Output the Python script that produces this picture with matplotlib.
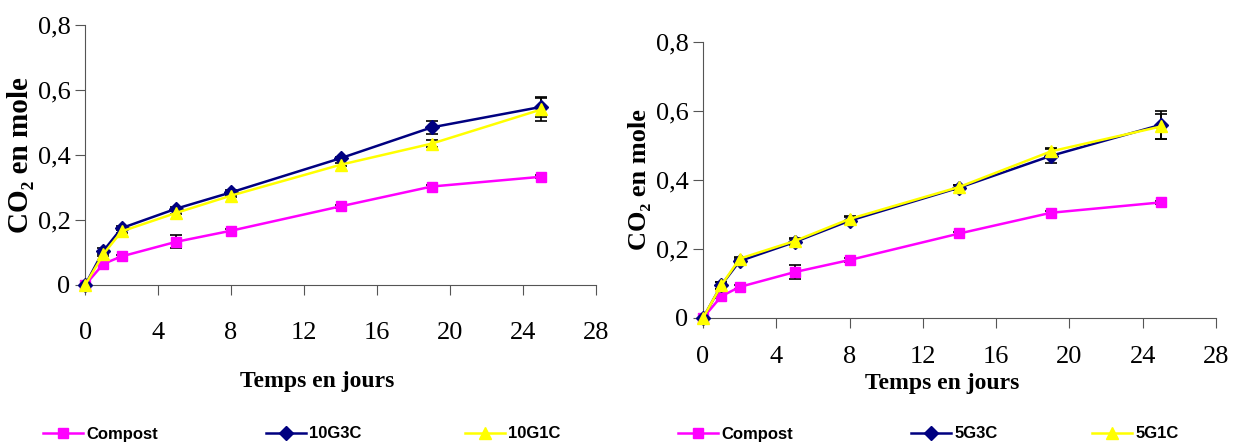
import matplotlib
matplotlib.use("Agg")
import matplotlib.pyplot as plt

# data
days = [0, 1, 2, 5, 8, 14, 19, 25]

left_compost = [0, 0.065, 0.088, 0.133, 0.167, 0.242, 0.303, 0.333]
left_compost_err = [0, 0.005, 0.005, 0.02, 0.005, 0.005, 0.005, 0.005]
left_g3c = [0, 0.105, 0.175, 0.235, 0.285, 0.39, 0.485, 0.548]
left_g3c_err = [0, 0.01, 0.005, 0.005, 0.008, 0.005, 0.02, 0.03]
left_g1c = [0, 0.095, 0.165, 0.222, 0.275, 0.37, 0.435, 0.54]
left_g1c_err = [0, 0.005, 0.005, 0.005, 0.005, 0.005, 0.01, 0.035]
left_names = ["Compost", "10G3C", "10G1C"]

right_compost = [0, 0.063, 0.09, 0.133, 0.168, 0.245, 0.305, 0.335]
right_compost_err = [0, 0.005, 0.005, 0.02, 0.005, 0.005, 0.005, 0.005]
right_g3c = [0, 0.095, 0.165, 0.22, 0.282, 0.378, 0.47, 0.56]
right_g3c_err = [0, 0.01, 0.008, 0.008, 0.01, 0.008, 0.02, 0.04]
right_g1c = [0, 0.095, 0.172, 0.223, 0.287, 0.38, 0.483, 0.555]
right_g1c_err = [0, 0.01, 0.005, 0.01, 0.01, 0.005, 0.01, 0.035]
right_names = ["Compost", "5G3C", "5G1C"]

x_ticks = [0, 4, 8, 12, 16, 20, 24, 28]
y_ticks = [0, 0.2, 0.4, 0.6, 0.8]
y_tick_labels = ["0", "0,2", "0,4", "0,6", "0,8"]

colors = ["#FF00FF", "#000080", "#FFFF00"]
markers = ["s", "D", "^"]
msizes = [7, 7, 9]

serif = "Liberation Serif"


def draw_panel(ax, series, errors, names, xpad, ylabel_size):
    handles = []
    for vals, err, name, c, m, ms in zip(series, errors, names, colors, markers, msizes):
        ax.errorbar(days, vals, yerr=err, fmt="none", ecolor="black",
                    elinewidth=1.2, capsize=4, capthick=1.2, zorder=2)
        h, = ax.plot(days, vals, color=c, marker=m, markersize=ms,
                     markerfacecolor=c, markeredgecolor=c, linewidth=1.8,
                     label=name, zorder=3, clip_on=False)
        handles.append(h)
    ax.set_xlim(0, 28)
    ax.set_ylim(0, 0.8)
    ax.set_xticks(x_ticks)
    ax.set_yticks(y_ticks)
    ax.set_yticklabels(y_tick_labels)
    for s in ["top", "right"]:
        ax.spines[s].set_visible(False)
    for s in ["left", "bottom"]:
        ax.spines[s].set_color("#555555")
    ax.tick_params(axis="both", direction="out", length=7, color="#555555",
                   labelsize=19)
    ax.tick_params(axis="x", pad=xpad)
    for lab in ax.get_xticklabels() + ax.get_yticklabels():
        lab.set_fontfamily(serif)
    ax.set_ylabel("CO₂ en mole", fontsize=ylabel_size, fontweight="bold",
                  fontfamily=serif, labelpad=3)
    return handles


fig = plt.figure(figsize=(12.34, 4.46), dpi=100)

ax1 = fig.add_axes([0.069, 0.361, 0.414, 0.583])
h1 = draw_panel(ax1, [left_compost, left_g3c, left_g1c],
                [left_compost_err, left_g3c_err, left_g1c_err], left_names, 20, 21)
ax1.set_xlabel("Temps en jours", fontsize=17, fontweight="bold",
               fontfamily=serif)
ax1.xaxis.set_label_coords(0.454, -0.33)

ax2 = fig.add_axes([0.5697, 0.287, 0.4157, 0.619])
h2 = draw_panel(ax2, [right_compost, right_g3c, right_g1c],
                [right_compost_err, right_g3c_err, right_g1c_err], right_names, 13, 19)
ax2.set_xlabel("Temps en jours", fontsize=17, fontweight="bold",
               fontfamily=serif)
ax2.xaxis.set_label_coords(0.466, -0.2)

# one legend box per entry, placed like the reference
legend_font = {"family": "Liberation Sans", "weight": "bold", "size": 12}
legend_x = [43, 266, 465, 678, 911, 1092]
for h, x in zip(h1 + h2, legend_x):
    fig.legend(handles=[h], loc="center left", bbox_to_anchor=(x / 1234, 1 - 434 / 446),
               frameon=False, prop=legend_font, handlelength=2.4,
               handletextpad=0.2, borderpad=0, borderaxespad=0)

fig.savefig("out.png", dpi=100)
